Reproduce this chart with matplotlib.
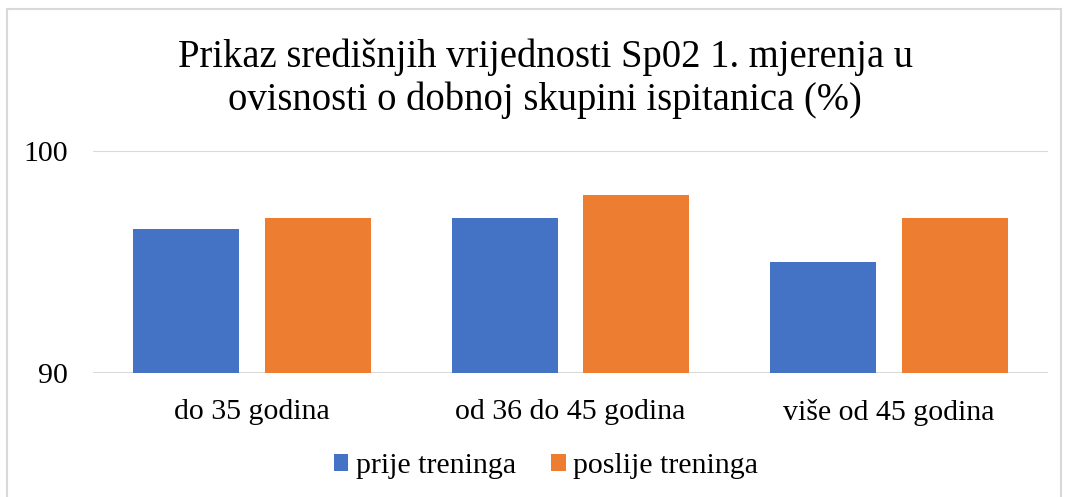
import numpy as np
import matplotlib.pyplot as plt
from matplotlib.patches import Rectangle

kategorije = ['do 35 godina', 'od 36 do 45 godina', 'više od 45 godina']
prije = [96.5, 97, 95]
poslije = [97, 98, 97]

plt.rcParams['font.family'] = ['Liberation Serif', 'DejaVu Serif']

fig = plt.figure(figsize=(10.65, 4.97), dpi=100)
ax = fig.add_axes([93 / 1065, 1 - 373 / 497, 955 / 1065, 222 / 497])

x = np.arange(len(kategorije))
w = 0.333
ax.bar(x - 0.207, prije, w, color='#4472C4', label='prije treninga')
ax.bar(x + 0.207, poslije, w, color='#ED7D31', label='poslije treninga')

ax.set_xlim(-0.5, 2.5)
ax.set_ylim(90, 100)
ax.set_yticks([90, 100])
ax.yaxis.grid(True, color='#D9D9D9', linewidth=1.5)
ax.set_axisbelow(True)
for s in ax.spines.values():
    s.set_visible(False)
ax.tick_params(axis='both', length=0, labelsize=21.5, colors='black')
ax.tick_params(axis='y', pad=18)
ax.tick_params(axis='x', pad=19)
ax.set_xticks(x)
ax.set_xticklabels(kategorije)

fig.text(545 / 1065, 1 - 38 / 497, 'Prikaz središnjih vrijednosti Sp02 1. mjerenja u\novisnosti o dobnoj skupini ispitanica (%)',
         ha='center', va='top', fontsize=27.8, linespacing=1.22)

fig.legend(loc='center', bbox_to_anchor=(546 / 1065, 1 - 466 / 497), ncol=2, frameon=False,
           fontsize=21.5, handlelength=0.48, handleheight=0.48, handletextpad=0.25, columnspacing=1.2)

fig.patches.append(Rectangle((7 / 1065, -0.1), 1054 / 1065, 1.1 - 9 / 497, transform=fig.transFigure,
                             fill=False, edgecolor='#D9D9D9', linewidth=1.5))

fig.savefig('out.png', dpi=100)
